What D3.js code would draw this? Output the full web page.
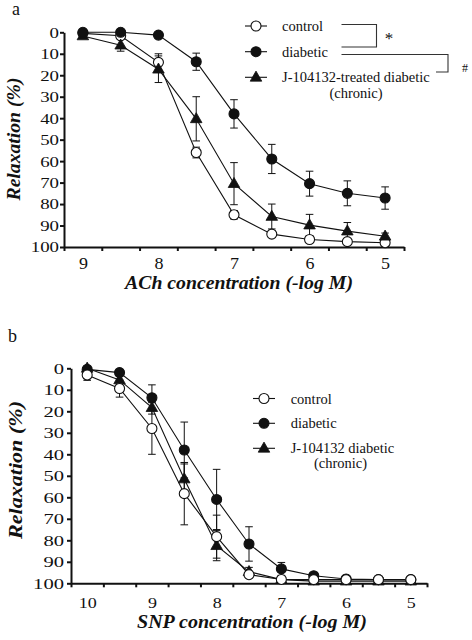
<!DOCTYPE html>
<html>
<head>
<meta charset="utf-8">
<script src="https://cdn.jsdelivr.net/npm/d3@7"></script>
<style>
  html, body { margin: 0; padding: 0; background: #fff; }
  svg { display: block; }
</style>
</head>
<body>
<svg id="chart" width="472" height="640"></svg>
<script>
// ---------- DATA ----------
// Panel a: ACh concentration (-log M)
const aConc = [9, 8.5, 8, 7.5, 7, 6.5, 6, 5.5, 5];
const aTickLabels = [9, 8, 7, 6, 5];
const aControl = [0.5, 1.6, 14, 56, 85, 94, 96.5, 97.5, 98];
const aControlErr = [0.5, 1, 4, 2.5, 2, 1.5, 1, 1, 0.5];
const aDiabetic = [0, 0, 1.3, 13.7, 38, 59, 70.5, 75, 77.2];
const aDiabeticErr = [0.5, 0.5, 1, 4, 6.6, 6.8, 5.8, 5.8, 5.2];
const aTreated = [1.7, 6, 17.2, 40.3, 70.5, 85.8, 89.8, 92.6, 95];
const aTreatedErr = [0.5, 2.8, 6.2, 10.3, 9.8, 5.8, 5, 4, 1.5];

// Panel b: SNP concentration (-log M)
const bConc = [10, 9.5, 9, 8.5, 8, 7.5, 7, 6.5, 6, 5.5, 5];
const bTickLabels = [10, 9, 8, 7, 6, 5];
const bControl = [3.1, 9.4, 28, 58.3, 78.3, 96, 98.2, 98.3, 98.3, 98.3, 98.3];
const bControlErr = [2.5, 4, 12, 14.5, 10, 1.5, 1, 0.5, 0.5, 0.5, 0.5];
const bDiabetic = [0.5, 2, 13.7, 38, 61, 81.7, 93.3, 96.5, 98, 98.3, 98.3];
const bDiabeticErr = [1, 1.5, 6, 13, 14, 8, 3, 1, 0.5, 0.5, 0.5];
const bTreated = [0, 5.4, 18.3, 51.5, 82.5, 94.6, 98.3, 99, 99, 99, 99];
const bTreatedErr = [1, 2, 3, 7, 7, 2, 1, 0.5, 0.5, 0.5, 0.5];

const yTickValues = [0, 10, 20, 30, 40, 50, 60, 70, 80, 90, 100];

const aLegend = ["control", "diabetic", "J-104132-treated diabetic"];
const bLegend = ["control", "diabetic", "J-104132 diabetic"];
const chronicNote = "(chronic)";

// ---------- DRAWING ----------
const FONT = "Liberation Serif";
const svg = d3.select("#chart");

function fitText(sel, perChar) {
  sel.each(function () {
    const t = this.textContent;
    if (t) d3.select(this).attr("textLength", perChar * t.length).attr("lengthAdjust", "spacingAndGlyphs");
  });
}

function marker(g, type, cx, cy) {
  if (type === "triangle") {
    g.append("path")
      .attr("d", d3.symbol(d3.symbolTriangle).size(58)())
      .attr("transform", `translate(${cx},${cy + 0.5})`)
      .attr("fill", "#111").attr("stroke", "#111").attr("stroke-width", 0.8);
  } else {
    g.append("circle")
      .attr("cx", cx).attr("cy", cy).attr("r", 5)
      .attr("fill", type === "open" ? "#fff" : "#111")
      .attr("stroke", "#111").attr("stroke-width", 1.1);
  }
}

function drawPanel(cfg) {
  const F = FONT;
  const g = svg.append("g").attr("font-family", F);
  const x = d3.scaleLinear().domain([cfg.conc[0] + 0.25, cfg.conc[cfg.conc.length - 1] - 0.25]).range([cfg.left, cfg.right]);
  const y = d3.scaleLinear().domain([0, 100]).range([cfg.top, cfg.bottom]);

  // tick marks at category boundaries
  const bounds = d3.range(cfg.conc.length + 1).map(i => cfg.conc[0] + 0.25 - 0.5 * i);
  const xAxisTicks = d3.axisBottom(x).tickValues(bounds).tickSize(4).tickSizeOuter(0).tickFormat("");
  const gxt = g.append("g").attr("transform", `translate(0,${cfg.bottom})`).call(xAxisTicks);
  gxt.selectAll("path, line").attr("stroke", "#111").attr("stroke-width", 2);

  // labels at category centres
  const xAxisLabels = d3.axisBottom(x).tickValues(cfg.tickLabels).tickSize(0).tickFormat(d3.format("d"));
  const gxl = g.append("g").attr("transform", `translate(0,${cfg.bottom})`).call(xAxisLabels);
  gxl.attr("font-family", F);
  gxl.select(".domain").remove();
  gxl.selectAll("text")
    .attr("y", cfg.xLabelOffset).attr("dy", 0)
    .attr("font-size", cfg.xTickFont).attr("font-family", F)
    .attr("fill", "#111");
  fitText(gxl.selectAll("text"), cfg.xDigitW);

  // y axis
  const yAxis = d3.axisLeft(y).tickValues(yTickValues).tickSize(4).tickPadding(cfg.yPad).tickSizeOuter(0).tickFormat(d3.format("d"));
  const gy = g.append("g").attr("transform", `translate(${cfg.left},0)`).call(yAxis);
  gy.attr("font-family", F);
  gy.selectAll("path, line").attr("stroke", "#111").attr("stroke-width", 2);
  gy.selectAll("text")
    .attr("font-size", 14.5).attr("font-family", F)
    .attr("dy", "0.34em").attr("fill", "#111");
  fitText(gy.selectAll("text"), cfg.yDigitW);

  const line = d3.line().x(d => x(d[0])).y(d => y(d[1]));

  // connecting lines
  cfg.series.forEach(s => {
    g.append("path")
      .datum(cfg.conc.map((c, i) => [c, s.values[i]]))
      .attr("d", line).attr("fill", "none").attr("stroke", "#111").attr("stroke-width", 1.1);
  });
  // error bars
  cfg.series.forEach(s => {
    cfg.conc.forEach((c, i) => {
      const e = s.err[i];
      if (!e) return;
      const cx = x(c), y1 = y(s.values[i] - e), y2 = y(s.values[i] + e);
      g.append("line").attr("x1", cx).attr("x2", cx).attr("y1", y1).attr("y2", y2).attr("stroke", "#111").attr("stroke-width", 1);
      [y1, y2].forEach(yy => g.append("line").attr("x1", cx - 3.8).attr("x2", cx + 3.8).attr("y1", yy).attr("y2", yy).attr("stroke", "#111").attr("stroke-width", 1));
    });
  });
  // markers
  cfg.series.forEach(s => {
    cfg.conc.forEach((c, i) => marker(g, s.type, x(c), y(s.values[i])));
  });

  // axis titles
  g.append("text")
    .attr("x", cfg.xTitleX).attr("y", cfg.xTitleY).attr("fill", "#111")
    .attr("text-anchor", "middle").attr("font-size", 18).attr("font-weight", "bold").attr("font-style", "italic")
    .attr("textLength", cfg.xTitleLen).attr("lengthAdjust", "spacingAndGlyphs")
    .text(cfg.xTitle);
  g.append("text")
    .attr("transform", `translate(${cfg.yTitleX},${cfg.yTitleY}) rotate(-90)`).attr("fill", "#111")
    .attr("text-anchor", "middle").attr("dy", "0.35em").attr("font-size", 18).attr("font-weight", "bold").attr("font-style", "italic")
    .attr("textLength", cfg.yTitleLen).attr("lengthAdjust", "spacingAndGlyphs")
    .text("Relaxation (%)");

  // panel letter
  g.append("text").attr("x", cfg.letterX).attr("y", cfg.letterY).attr("font-size", 18).attr("fill", "#111").text(cfg.letter);

  // legend
  const types = ["open", "filled", "triangle"];
  cfg.legendNames.forEach((name, i) => {
    const ly = cfg.legendY[i];
    g.append("line").attr("x1", cfg.legendX - 11).attr("x2", cfg.legendX + 11).attr("y1", ly).attr("y2", ly).attr("stroke", "#111").attr("stroke-width", 1.1);
    marker(g, types[i], cfg.legendX, ly);
    g.append("text").attr("x", cfg.legendTextX).attr("y", ly + 5).attr("font-size", 14.5).attr("fill", "#111").text(name);
  });
  g.append("text").attr("x", cfg.chronicX).attr("y", cfg.chronicY).attr("text-anchor", "middle").attr("font-size", 14.5).attr("fill", "#111").text(chronicNote);
  return g;
}

const gA = drawPanel({
  conc: aConc, tickLabels: aTickLabels,
  left: 64, right: 404, top: 32.3, bottom: 247,
  xLabelOffset: 22, xTickFont: 17, xDigitW: 9, yPad: 1, yDigitW: 9.4,
  series: [
    { values: aControl, err: aControlErr, type: "open" },
    { values: aTreated, err: aTreatedErr, type: "triangle" },
    { values: aDiabetic, err: aDiabeticErr, type: "filled" }
  ],
  xTitle: "ACh concentration (-log M)", xTitleX: 239, xTitleY: 289, xTitleLen: 228,
  yTitleX: 14, yTitleY: 139, yTitleLen: 123,
  letter: "a", letterX: 12, letterY: 15,
  legendNames: aLegend, legendY: [26, 51.7, 77.3], legendX: 256, legendTextX: 282,
  chronicX: 356, chronicY: 98
});

// significance brackets for panel a
gA.append("path").attr("d", "M341.5,24.5 H376.5 V47 H341.5").attr("fill", "none").attr("stroke", "#333").attr("stroke-width", 1.1);
gA.append("path").attr("d", "M341.5,54.5 H448 V72 H436").attr("fill", "none").attr("stroke", "#333").attr("stroke-width", 1.1);
gA.append("text").attr("x", 389).attr("y", 44).attr("text-anchor", "middle").attr("font-size", 17).attr("fill", "#111").text("*");
gA.append("text").attr("x", 465).attr("y", 72).attr("text-anchor", "middle").attr("font-size", 12).attr("fill", "#111").text("#");

drawPanel({
  conc: bConc, tickLabels: bTickLabels,
  left: 71, right: 427, top: 368.3, bottom: 583.3,
  xLabelOffset: 25, xTickFont: 15.5, xDigitW: 9, yPad: 3, yDigitW: 10.3,
  series: [
    { values: bDiabetic, err: bDiabeticErr, type: "filled" },
    { values: bTreated, err: bTreatedErr, type: "triangle" },
    { values: bControl, err: bControlErr, type: "open" }
  ],
  xTitle: "SNP concentration (-log M)", xTitleX: 252, xTitleY: 628, xTitleLen: 230,
  yTitleX: 16, yTitleY: 470, yTitleLen: 138,
  letter: "b", letterX: 8, letterY: 342,
  legendNames: bLegend, legendY: [398.5, 423.3, 448.3], legendX: 264, legendTextX: 290.7,
  chronicX: 340.5, chronicY: 468
});
</script>
</body>
</html>
